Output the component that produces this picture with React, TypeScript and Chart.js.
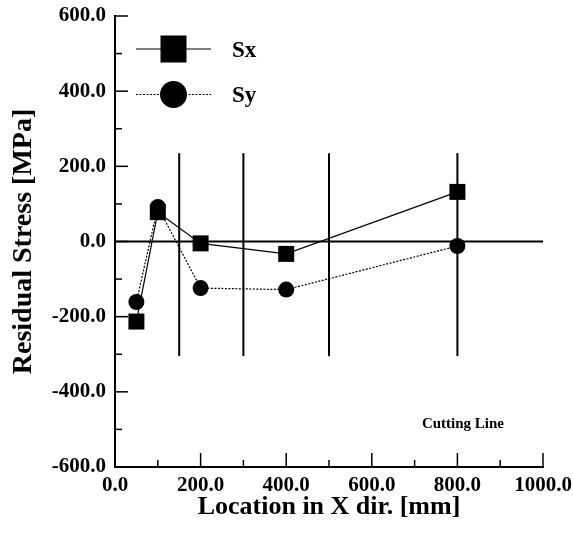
import React, { useEffect, useRef } from 'react';
import { Chart, registerables } from 'chart.js';

Chart.register(...registerables);

// ---- data ----
const xPositions = [50, 100, 200, 400, 800];
const sxValues = [-213, 78, -5, -33, 132];
const syValues = [-161, 92, -124, -128, -12];
const seriesLabels = ['Sx', 'Sy'];
const cuttingLines = [150, 300, 500, 800];
const cuttingTop = 235;
const cuttingBottom = -305;
const cuttingLabel = 'Cutting Line';
const cuttingLabelPos = [813, -485];
const xAxisTitle = 'Location in X dir. [mm]';
const yAxisTitle = 'Residual Stress [MPa]';

const FONT = '"Liberation Serif", "Times New Roman", serif';

const overlayPlugin = {
  id: 'overlay',
  beforeDatasetsDraw(chart: any) {
    const { ctx, chartArea, scales } = chart;
    const x = scales.x;
    const y = scales.y;
    ctx.save();
    ctx.strokeStyle = '#000';
    ctx.lineWidth = 2;
    // zero line
    const y0 = y.getPixelForValue(0);
    ctx.beginPath();
    ctx.moveTo(chartArea.left, y0);
    ctx.lineTo(chartArea.right, y0);
    ctx.stroke();
    // cutting lines
    for (const c of cuttingLines) {
      const px = x.getPixelForValue(c);
      ctx.beginPath();
      ctx.moveTo(px, y.getPixelForValue(cuttingTop));
      ctx.lineTo(px, y.getPixelForValue(cuttingBottom));
      ctx.stroke();
    }
    // inward ticks
    ctx.lineWidth = 1.5;
    for (let v = -600; v <= 600; v += 100) {
      const py = y.getPixelForValue(v);
      const len = v % 200 === 0 ? 13 : 7;
      ctx.beginPath();
      ctx.moveTo(chartArea.left, py);
      ctx.lineTo(chartArea.left + len, py);
      ctx.stroke();
    }
    for (let v = 0; v <= 1000; v += 100) {
      const px = x.getPixelForValue(v);
      const len = v % 200 === 0 ? 14 : 7;
      ctx.beginPath();
      ctx.moveTo(px, chartArea.bottom);
      ctx.lineTo(px, chartArea.bottom - len);
      ctx.stroke();
    }
    // cutting line label
    ctx.fillStyle = '#000';
    ctx.font = 'bold 15px ' + FONT;
    ctx.textAlign = 'center';
    ctx.textBaseline = 'middle';
    ctx.fillText(cuttingLabel, x.getPixelForValue(cuttingLabelPos[0]), y.getPixelForValue(cuttingLabelPos[1]));
    ctx.restore();
  },
  afterDatasetsDraw(chart: any) {
    const { ctx, chartArea } = chart;
    const ds = chart.data.datasets;
    ctx.save();
    const lx0 = chartArea.left + 21;
    const lx1 = chartArea.left + 96;
    const mx = chartArea.left + 58.5;
    const rows = [chartArea.top + 33, chartArea.top + 78.5];
    ds.forEach((d: any, i: number) => {
      const ry = rows[i];
      ctx.strokeStyle = '#000';
      ctx.lineWidth = 1.2;
      ctx.setLineDash(i === 0 ? [] : [2, 1.5]);
      ctx.beginPath();
      ctx.moveTo(lx0, ry);
      ctx.lineTo(lx1, ry);
      ctx.stroke();
      ctx.setLineDash([]);
      ctx.fillStyle = '#000';
      if (i === 0) {
        ctx.fillRect(mx - 13, ry - 13.5, 26, 27);
      } else {
        ctx.beginPath();
        ctx.arc(mx, ry, 13.5, 0, Math.PI * 2);
        ctx.fill();
      }
      ctx.font = 'bold 23px ' + FONT;
      ctx.textAlign = 'left';
      ctx.textBaseline = 'middle';
      ctx.fillText(d.label, chartArea.left + 117, ry + 2);
    });
    ctx.restore();
  },
};

const zeroPad = (s: any) => {
  s.paddingTop = 0;
  s.paddingBottom = 0;
  s.paddingLeft = 0;
  s.paddingRight = 0;
};

export default function App() {
  const ref = useRef<HTMLCanvasElement>(null);
  useEffect(() => {
    if (!ref.current) return;
    const toPts = (vals: number[]) => xPositions.map((xv, i) => ({ x: xv, y: vals[i] }));
    const chart = new Chart(ref.current, {
      type: 'line',
      data: {
        datasets: [
          {
            label: seriesLabels[0],
            data: toPts(sxValues),
            borderColor: '#000',
            backgroundColor: '#000',
            borderWidth: 1.2,
            pointStyle: 'rect',
            pointRadius: 11.3,
            pointHoverRadius: 11.3,
            pointBackgroundColor: '#000',
            pointBorderWidth: 0,
            tension: 0,
          },
          {
            label: seriesLabels[1],
            data: toPts(syValues),
            borderColor: '#000',
            backgroundColor: '#000',
            borderWidth: 1.2,
            borderDash: [2, 1.5],
            pointStyle: 'circle',
            pointRadius: 8,
            pointHoverRadius: 8,
            pointBackgroundColor: '#000',
            pointBorderWidth: 0,
            tension: 0,
          },
        ],
      },
      options: {
        animation: false,
        responsive: false,
        maintainAspectRatio: false,
        layout: { padding: { top: 16, right: 30, left: 0, bottom: 0 } },
        plugins: { legend: { display: false }, tooltip: { enabled: false } },
        scales: {
          x: {
            type: 'linear',
            min: 0,
            max: 1000,
            offset: false,
            afterFit: (s: any) => { s.height = 67; zeroPad(s); },
            grid: { display: false, drawTicks: false, tickLength: 0 },
            border: { display: true, color: '#000', width: 2 },
            ticks: {
              stepSize: 200,
              color: '#000',
              padding: 6,
              maxRotation: 0,
              font: { family: FONT, size: 21, weight: 'bold' },
              callback: (v: any) => Number(v).toFixed(1),
            },
            title: {
              display: true,
              text: xAxisTitle,
              color: '#000',
              font: { family: FONT, size: 26, weight: 'bold' },
              padding: { top: 0, bottom: 11 },
            },
          },
          y: {
            type: 'linear',
            min: -600,
            max: 600,
            afterFit: (s: any) => { s.width = 115; zeroPad(s); },
            grid: { display: false, drawTicks: false, tickLength: 0 },
            border: { display: true, color: '#000', width: 2 },
            ticks: {
              stepSize: 200,
              color: '#000',
              padding: 9,
              font: { family: FONT, size: 21, weight: 'bold' },
              callback: (v: any) => Number(v).toFixed(1),
            },
            title: {
              display: true,
              text: yAxisTitle,
              color: '#000',
              font: { family: FONT, size: 28, weight: 'bold' },
              padding: { top: 7, bottom: 0 },
            },
          },
        },
      },
      plugins: [overlayPlugin],
    });
    return () => chart.destroy();
  }, []);
  return (
    <div style={{ position: 'fixed', left: 0, top: 0, width: 573, height: 534, background: '#fff' }}>
      <canvas ref={ref} width={573} height={534} style={{ display: 'block' }} />
    </div>
  );
}
